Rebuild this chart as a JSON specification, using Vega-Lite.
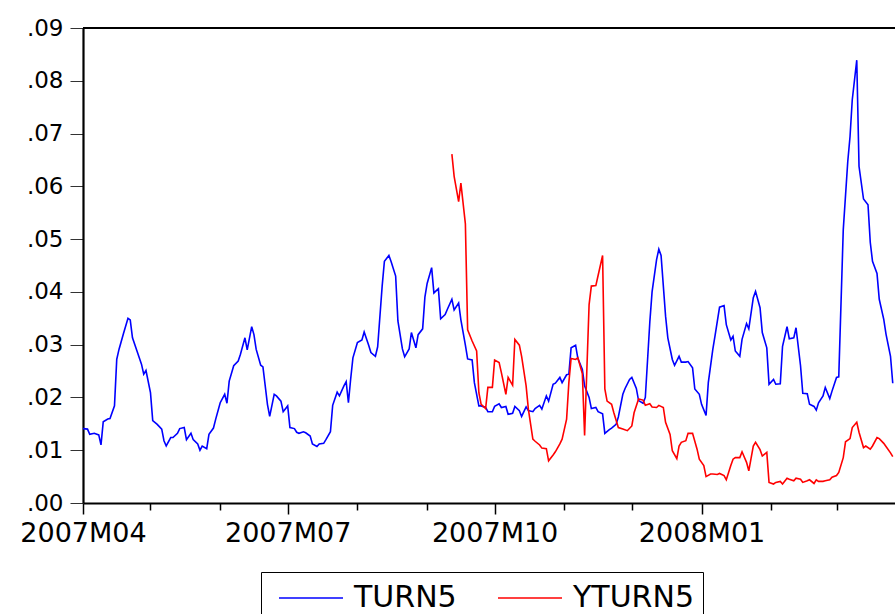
{
"$schema": "https://vega.github.io/schema/vega-lite/v6.json",
"width": 812, "height": 475,
"autosize": {"type": "none"},
"padding": {"left": 83, "top": 28, "right": 0, "bottom": 111},
"background": "white",
"config": {"view": {"stroke": null}, "font": "DejaVu Sans"},
"datasets": {
"TURN5": [
{"d":"2007-04-01","v":0.0141},{"d":"2007-04-03","v":0.0140},{"d":"2007-04-04","v":0.0130},{"d":"2007-04-06","v":0.0132},{"d":"2007-04-08","v":0.0129},{"d":"2007-04-09","v":0.0110},{"d":"2007-04-10","v":0.0154},{"d":"2007-04-12","v":0.0159},{"d":"2007-04-13","v":0.0160},{"d":"2007-04-15","v":0.0184},{"d":"2007-04-16","v":0.0272},{"d":"2007-04-17","v":0.0291},{"d":"2007-04-19","v":0.0321},{"d":"2007-04-21","v":0.0350},{"d":"2007-04-22","v":0.0347},{"d":"2007-04-23","v":0.0313},{"d":"2007-04-25","v":0.0288},{"d":"2007-04-27","v":0.0263},{"d":"2007-04-28","v":0.0244},{"d":"2007-04-29","v":0.0251},
{"d":"2007-05-01","v":0.0209},{"d":"2007-05-02","v":0.0156},{"d":"2007-05-04","v":0.0149},{"d":"2007-05-06","v":0.0140},{"d":"2007-05-07","v":0.0118},{"d":"2007-05-08","v":0.0108},{"d":"2007-05-10","v":0.0124},{"d":"2007-05-11","v":0.0124},{"d":"2007-05-13","v":0.0132},{"d":"2007-05-14","v":0.0141},{"d":"2007-05-16","v":0.0143},{"d":"2007-05-17","v":0.0120},{"d":"2007-05-19","v":0.0132},{"d":"2007-05-20","v":0.0120},{"d":"2007-05-22","v":0.0112},{"d":"2007-05-23","v":0.0100},{"d":"2007-05-24","v":0.0108},{"d":"2007-05-26","v":0.0103},{"d":"2007-05-27","v":0.0130},{"d":"2007-05-29","v":0.0142},{"d":"2007-05-30","v":0.0159},
{"d":"2007-06-01","v":0.0190},{"d":"2007-06-03","v":0.0206},{"d":"2007-06-04","v":0.0189},{"d":"2007-06-05","v":0.0231},{"d":"2007-06-07","v":0.0260},{"d":"2007-06-09","v":0.0269},{"d":"2007-06-10","v":0.0282},{"d":"2007-06-12","v":0.0313},{"d":"2007-06-13","v":0.0290},{"d":"2007-06-15","v":0.0334},{"d":"2007-06-16","v":0.0319},{"d":"2007-06-17","v":0.0291},{"d":"2007-06-19","v":0.0261},{"d":"2007-06-20","v":0.0258},{"d":"2007-06-22","v":0.0187},{"d":"2007-06-23","v":0.0164},{"d":"2007-06-25","v":0.0206},{"d":"2007-06-26","v":0.0203},{"d":"2007-06-28","v":0.0193},{"d":"2007-06-29","v":0.0173},
{"d":"2007-07-01","v":0.0184},{"d":"2007-07-02","v":0.0143},{"d":"2007-07-04","v":0.0141},{"d":"2007-07-05","v":0.0134},{"d":"2007-07-06","v":0.0132},{"d":"2007-07-08","v":0.0135},{"d":"2007-07-09","v":0.0133},{"d":"2007-07-11","v":0.0127},{"d":"2007-07-12","v":0.0112},{"d":"2007-07-14","v":0.0107},{"d":"2007-07-15","v":0.0112},{"d":"2007-07-17","v":0.0113},{"d":"2007-07-18","v":0.0120},{"d":"2007-07-20","v":0.0135},{"d":"2007-07-21","v":0.0185},{"d":"2007-07-23","v":0.0210},{"d":"2007-07-24","v":0.0203},{"d":"2007-07-26","v":0.0222},{"d":"2007-07-27","v":0.0230},{"d":"2007-07-28","v":0.0190},{"d":"2007-07-29","v":0.0235},{"d":"2007-07-30","v":0.0275},
{"d":"2007-08-01","v":0.0304},{"d":"2007-08-03","v":0.0309},{"d":"2007-08-04","v":0.0324},{"d":"2007-08-06","v":0.0299},{"d":"2007-08-07","v":0.0285},{"d":"2007-08-09","v":0.0278},{"d":"2007-08-10","v":0.0296},{"d":"2007-08-12","v":0.0411},{"d":"2007-08-13","v":0.0458},{"d":"2007-08-15","v":0.0469},{"d":"2007-08-16","v":0.0457},{"d":"2007-08-18","v":0.0430},{"d":"2007-08-19","v":0.0345},{"d":"2007-08-21","v":0.0292},{"d":"2007-08-22","v":0.0277},{"d":"2007-08-24","v":0.0292},{"d":"2007-08-25","v":0.0323},{"d":"2007-08-27","v":0.0294},{"d":"2007-08-28","v":0.0319},{"d":"2007-08-30","v":0.0330},{"d":"2007-08-31","v":0.0390},
{"d":"2007-09-01","v":0.0416},{"d":"2007-09-03","v":0.0446},{"d":"2007-09-04","v":0.0398},{"d":"2007-09-06","v":0.0406},{"d":"2007-09-07","v":0.0349},{"d":"2007-09-09","v":0.0357},{"d":"2007-09-10","v":0.0367},{"d":"2007-09-12","v":0.0386},{"d":"2007-09-13","v":0.0366},{"d":"2007-09-15","v":0.0379},{"d":"2007-09-16","v":0.0347},{"d":"2007-09-18","v":0.0299},{"d":"2007-09-19","v":0.0273},{"d":"2007-09-21","v":0.0271},{"d":"2007-09-22","v":0.0228},{"d":"2007-09-24","v":0.0184},{"d":"2007-09-25","v":0.0184},{"d":"2007-09-27","v":0.0181},{"d":"2007-09-28","v":0.0173},{"d":"2007-09-30","v":0.0173},
{"d":"2007-10-01","v":0.0183},{"d":"2007-10-03","v":0.0188},{"d":"2007-10-04","v":0.0181},{"d":"2007-10-06","v":0.0183},{"d":"2007-10-07","v":0.0168},{"d":"2007-10-09","v":0.0170},{"d":"2007-10-10","v":0.0183},{"d":"2007-10-12","v":0.0175},{"d":"2007-10-13","v":0.0164},{"d":"2007-10-15","v":0.0182},{"d":"2007-10-16","v":0.0175},{"d":"2007-10-18","v":0.0173},{"d":"2007-10-19","v":0.0179},{"d":"2007-10-21","v":0.0185},{"d":"2007-10-22","v":0.0178},{"d":"2007-10-24","v":0.0203},{"d":"2007-10-25","v":0.0193},{"d":"2007-10-27","v":0.0225},{"d":"2007-10-28","v":0.0227},{"d":"2007-10-30","v":0.0238},{"d":"2007-10-31","v":0.0228},
{"d":"2007-11-02","v":0.0243},{"d":"2007-11-03","v":0.0244},{"d":"2007-11-04","v":0.0294},{"d":"2007-11-06","v":0.0299},{"d":"2007-11-07","v":0.0274},{"d":"2007-11-09","v":0.0253},{"d":"2007-11-10","v":0.0222},{"d":"2007-11-12","v":0.0200},{"d":"2007-11-13","v":0.0179},{"d":"2007-11-15","v":0.0181},{"d":"2007-11-16","v":0.0173},{"d":"2007-11-18","v":0.0169},{"d":"2007-11-19","v":0.0132},{"d":"2007-11-21","v":0.0139},{"d":"2007-11-22","v":0.0142},{"d":"2007-11-24","v":0.0149},{"d":"2007-11-25","v":0.0163},{"d":"2007-11-27","v":0.0206},{"d":"2007-11-28","v":0.0217},{"d":"2007-11-30","v":0.0234},
{"d":"2007-12-01","v":0.0238},{"d":"2007-12-03","v":0.0217},{"d":"2007-12-04","v":0.0194},{"d":"2007-12-06","v":0.0189},{"d":"2007-12-07","v":0.0200},{"d":"2007-12-09","v":0.0343},{"d":"2007-12-10","v":0.0400},{"d":"2007-12-12","v":0.0461},{"d":"2007-12-13","v":0.0481},{"d":"2007-12-14","v":0.0469},{"d":"2007-12-16","v":0.0354},{"d":"2007-12-17","v":0.0313},{"d":"2007-12-19","v":0.0272},{"d":"2007-12-20","v":0.0261},{"d":"2007-12-22","v":0.0278},{"d":"2007-12-23","v":0.0267},{"d":"2007-12-25","v":0.0267},{"d":"2007-12-26","v":0.0268},{"d":"2007-12-28","v":0.0256},{"d":"2007-12-29","v":0.0216},{"d":"2007-12-31","v":0.0206},
{"d":"2008-01-01","v":0.0187},{"d":"2008-01-03","v":0.0166},{"d":"2008-01-04","v":0.0228},{"d":"2008-01-06","v":0.0291},{"d":"2008-01-07","v":0.0317},{"d":"2008-01-09","v":0.0371},{"d":"2008-01-11","v":0.0374},{"d":"2008-01-12","v":0.0338},{"d":"2008-01-14","v":0.0309},{"d":"2008-01-15","v":0.0316},{"d":"2008-01-16","v":0.0288},{"d":"2008-01-18","v":0.0278},{"d":"2008-01-19","v":0.0310},{"d":"2008-01-21","v":0.0340},{"d":"2008-01-22","v":0.0330},{"d":"2008-01-24","v":0.0389},{"d":"2008-01-25","v":0.0401},{"d":"2008-01-27","v":0.0370},{"d":"2008-01-28","v":0.0323},{"d":"2008-01-30","v":0.0294},{"d":"2008-01-31","v":0.0225},
{"d":"2008-02-02","v":0.0234},{"d":"2008-02-03","v":0.0225},{"d":"2008-02-05","v":0.0226},{"d":"2008-02-06","v":0.0297},{"d":"2008-02-08","v":0.0334},{"d":"2008-02-09","v":0.0311},{"d":"2008-02-11","v":0.0313},{"d":"2008-02-12","v":0.0332},{"d":"2008-02-14","v":0.0260},{"d":"2008-02-15","v":0.0208},{"d":"2008-02-17","v":0.0207},{"d":"2008-02-18","v":0.0187},{"d":"2008-02-20","v":0.0183},{"d":"2008-02-21","v":0.0176},{"d":"2008-02-22","v":0.0190},{"d":"2008-02-24","v":0.0203},{"d":"2008-02-25","v":0.0219},{"d":"2008-02-27","v":0.0198},{"d":"2008-02-28","v":0.0212},
{"d":"2008-03-01","v":0.0238},{"d":"2008-03-02","v":0.0239},{"d":"2008-03-04","v":0.0518},{"d":"2008-03-06","v":0.0647},{"d":"2008-03-07","v":0.0694},{"d":"2008-03-08","v":0.0764},{"d":"2008-03-10","v":0.0839},{"d":"2008-03-11","v":0.0638},{"d":"2008-03-13","v":0.0576},{"d":"2008-03-15","v":0.0565},{"d":"2008-03-16","v":0.0494},{"d":"2008-03-17","v":0.0458},{"d":"2008-03-19","v":0.0435},{"d":"2008-03-20","v":0.0386},{"d":"2008-03-22","v":0.0348},{"d":"2008-03-23","v":0.0320},{"d":"2008-03-25","v":0.0278},{"d":"2008-03-26","v":0.0227}
],
"YTURN5": [
{"d":"2007-09-12","v":0.0661},{"d":"2007-09-13","v":0.0619},{"d":"2007-09-15","v":0.0571},{"d":"2007-09-16","v":0.0606},{"d":"2007-09-18","v":0.0529},{"d":"2007-09-19","v":0.0328},{"d":"2007-09-21","v":0.0307},{"d":"2007-09-23","v":0.0288},{"d":"2007-09-24","v":0.0209},{"d":"2007-09-25","v":0.0187},{"d":"2007-09-27","v":0.0179},{"d":"2007-09-28","v":0.0219},{"d":"2007-09-30","v":0.0219},
{"d":"2007-10-01","v":0.0271},{"d":"2007-10-03","v":0.0266},{"d":"2007-10-04","v":0.0247},{"d":"2007-10-06","v":0.0206},{"d":"2007-10-07","v":0.0238},{"d":"2007-10-09","v":0.0223},{"d":"2007-10-10","v":0.0310},{"d":"2007-10-12","v":0.0299},{"d":"2007-10-13","v":0.0278},{"d":"2007-10-15","v":0.0222},{"d":"2007-10-16","v":0.0178},{"d":"2007-10-18","v":0.0121},{"d":"2007-10-19","v":0.0117},{"d":"2007-10-21","v":0.0110},{"d":"2007-10-22","v":0.0104},{"d":"2007-10-24","v":0.0103},{"d":"2007-10-25","v":0.0080},{"d":"2007-10-27","v":0.0091},{"d":"2007-10-28","v":0.0097},{"d":"2007-10-30","v":0.0112},{"d":"2007-10-31","v":0.0121},
{"d":"2007-11-02","v":0.0159},{"d":"2007-11-03","v":0.0228},{"d":"2007-11-04","v":0.0274},{"d":"2007-11-06","v":0.0272},{"d":"2007-11-07","v":0.0275},{"d":"2007-11-09","v":0.0245},{"d":"2007-11-10","v":0.0128},{"d":"2007-11-12","v":0.0376},{"d":"2007-11-13","v":0.0411},{"d":"2007-11-15","v":0.0412},{"d":"2007-11-16","v":0.0431},{"d":"2007-11-18","v":0.0469},{"d":"2007-11-19","v":0.0216},{"d":"2007-11-20","v":0.0193},{"d":"2007-11-22","v":0.0187},{"d":"2007-11-23","v":0.0171},{"d":"2007-11-25","v":0.0143},{"d":"2007-11-27","v":0.0140},{"d":"2007-11-29","v":0.0137},
{"d":"2007-12-01","v":0.0146},{"d":"2007-12-02","v":0.0171},{"d":"2007-12-04","v":0.0197},{"d":"2007-12-06","v":0.0195},{"d":"2007-12-07","v":0.0185},{"d":"2007-12-09","v":0.0188},{"d":"2007-12-10","v":0.0182},{"d":"2007-12-12","v":0.0181},{"d":"2007-12-13","v":0.0185},{"d":"2007-12-15","v":0.0181},{"d":"2007-12-16","v":0.0153},{"d":"2007-12-18","v":0.0130},{"d":"2007-12-19","v":0.0099},{"d":"2007-12-21","v":0.0084},{"d":"2007-12-22","v":0.0108},{"d":"2007-12-23","v":0.0115},{"d":"2007-12-25","v":0.0118},{"d":"2007-12-26","v":0.0132},{"d":"2007-12-28","v":0.0132},{"d":"2007-12-30","v":0.0102},{"d":"2007-12-31","v":0.0083},
{"d":"2008-01-02","v":0.0071},{"d":"2008-01-03","v":0.0050},{"d":"2008-01-05","v":0.0055},{"d":"2008-01-06","v":0.0055},{"d":"2008-01-08","v":0.0054},{"d":"2008-01-09","v":0.0056},{"d":"2008-01-11","v":0.0052},{"d":"2008-01-12","v":0.0044},{"d":"2008-01-14","v":0.0071},{"d":"2008-01-15","v":0.0083},{"d":"2008-01-16","v":0.0086},{"d":"2008-01-18","v":0.0086},{"d":"2008-01-19","v":0.0097},{"d":"2008-01-21","v":0.0077},{"d":"2008-01-22","v":0.0061},{"d":"2008-01-24","v":0.0108},{"d":"2008-01-25","v":0.0115},{"d":"2008-01-27","v":0.0101},{"d":"2008-01-28","v":0.0089},{"d":"2008-01-30","v":0.0096},{"d":"2008-01-31","v":0.0039},
{"d":"2008-02-02","v":0.0036},{"d":"2008-02-03","v":0.0039},{"d":"2008-02-05","v":0.0041},{"d":"2008-02-06","v":0.0036},{"d":"2008-02-08","v":0.0047},{"d":"2008-02-09","v":0.0045},{"d":"2008-02-11","v":0.0042},{"d":"2008-02-12","v":0.0047},{"d":"2008-02-14","v":0.0045},{"d":"2008-02-15","v":0.0039},{"d":"2008-02-17","v":0.0042},{"d":"2008-02-18","v":0.0044},{"d":"2008-02-20","v":0.0037},{"d":"2008-02-21","v":0.0044},{"d":"2008-02-22","v":0.0041},{"d":"2008-02-24","v":0.0041},{"d":"2008-02-25","v":0.0042},{"d":"2008-02-27","v":0.0044},{"d":"2008-02-28","v":0.0049},
{"d":"2008-03-01","v":0.0052},{"d":"2008-03-02","v":0.0058},{"d":"2008-03-04","v":0.0086},{"d":"2008-03-05","v":0.0116},{"d":"2008-03-07","v":0.0122},{"d":"2008-03-08","v":0.0143},{"d":"2008-03-10","v":0.0153},{"d":"2008-03-11","v":0.0134},{"d":"2008-03-13","v":0.0105},{"d":"2008-03-14","v":0.0108},{"d":"2008-03-16","v":0.0102},{"d":"2008-03-17","v":0.0108},{"d":"2008-03-19","v":0.0124},{"d":"2008-03-20","v":0.0122},{"d":"2008-03-22","v":0.0113},{"d":"2008-03-23","v":0.0107},{"d":"2008-03-25","v":0.0095},{"d":"2008-03-26","v":0.0088}
]
},
"layer": [
  {"data": {"name": "TURN5"},
   "mark": {"type": "line", "strokeWidth": 1.6},
   "encoding": {
     "x": {"field": "d", "type": "temporal",
       "scale": {"type": "utc", "domain": [{"year": 2007, "month": 4, "date": 1, "utc": true}, {"year": 2008, "month": 3, "date": 27, "utc": true}]},
       "axis": {"title": null, "grid": false,
         "values": [{"year":2007,"month":4,"date":1,"utc":true},{"year":2007,"month":5,"date":1,"utc":true},{"year":2007,"month":6,"date":1,"utc":true},{"year":2007,"month":7,"date":1,"utc":true},{"year":2007,"month":8,"date":1,"utc":true},{"year":2007,"month":9,"date":1,"utc":true},{"year":2007,"month":10,"date":1,"utc":true},{"year":2007,"month":11,"date":1,"utc":true},{"year":2007,"month":12,"date":1,"utc":true},{"year":2008,"month":1,"date":1,"utc":true},{"year":2008,"month":2,"date":1,"utc":true},{"year":2008,"month":3,"date":1,"utc":true}],
         "labelExpr": "utcmonth(datum.value) % 3 == 0 ? utcFormat(datum.value, '%YM%m') : ''",
         "tickSize": {"condition": {"test": "utcmonth(datum.value) % 3 == 0", "value": 11}, "value": 7},
         "tickColor": "black", "tickWidth": 1.5,
         "domainColor": "black", "domainWidth": 2.2,
         "labelFont": "DejaVu Sans", "labelFontSize": 27, "labelColor": "black", "labelPadding": 6,
         "labelOverlap": false, "labelFlush": false, "labelBound": false}},
     "y": {"field": "v", "type": "quantitative",
       "scale": {"domain": [0, 0.09], "nice": false, "zero": false},
       "axis": {"title": null, "grid": false,
         "values": [0, 0.01, 0.02, 0.03, 0.04, 0.05, 0.06, 0.07, 0.08, 0.09],
         "labelExpr": "substring(format(datum.value, '.2f'), 1)",
         "tickSize": 13, "tickColor": "#333333", "tickWidth": 1,
         "domainColor": "black", "domainWidth": 2.2,
         "labelFont": "DejaVu Sans", "labelFontSize": 23, "labelColor": "black", "labelPadding": 7,
         "labelOverlap": false, "labelFlush": false}},
     "color": {"datum": "TURN5", "type": "nominal",
       "scale": {"domain": ["TURN5", "YTURN5"], "range": ["#0000FF", "#FF0000"]},
       "legend": {"title": null, "orient": "none", "legendX": 178, "legendY": 544, "direction": "horizontal",
         "symbolType": "M-2,0L2,0", "symbolSize": 1024, "symbolStrokeWidth": 1.6, "symbolOffset": 24,
         "labelFont": "DejaVu Sans", "labelFontSize": 30, "labelColor": "black", "labelOffset": 26, "labelLimit": 0,
         "columnPadding": 32, "padding": 9, "strokeColor": "black", "fillColor": "white"}}}},
  {"data": {"name": "YTURN5"},
   "mark": {"type": "line", "strokeWidth": 1.6},
   "encoding": {
     "x": {"field": "d", "type": "temporal"},
     "y": {"field": "v", "type": "quantitative"},
     "color": {"datum": "YTURN5", "type": "nominal"}}},
  {"data": {"values": [{}]},
   "mark": {"type": "rule", "color": "black", "strokeWidth": 2.2},
   "encoding": {"y": {"datum": 0.09, "type": "quantitative"}}}
]
}
